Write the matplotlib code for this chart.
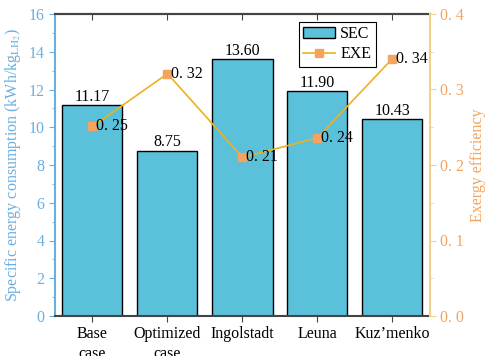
import matplotlib
matplotlib.use("Agg")
import matplotlib.pyplot as plt
from matplotlib.ticker import MultipleLocator, FuncFormatter

categories = ["Base\ncase", "Optimized\ncase", "Ingolstadt", "Leuna", "Kuz\u2019menko"]
sec = [11.17, 8.75, 13.60, 11.90, 10.43]
exe = [0.251, 0.321, 0.21, 0.236, 0.341]
exe_labels = ["0. 25", "0. 32", "0. 21", "0. 24", "0. 34"]

plt.rcParams['font.family'] = ['Liberation Serif', 'DejaVu Serif']
plt.rcParams['mathtext.fontset'] = 'stix'

fs = 11.5
bar_color = '#5BC0DA'
blue = '#6AAFE0'
line_color = '#EDB120'
marker_color = '#F4A460'
right_spine = '#F3D08A'
dark = '#444444'

fig = plt.figure(figsize=(4.89, 3.56), dpi=100)
ax = fig.add_axes([55/489, 1-316/356, 375/489, 302/356])
x = list(range(len(categories)))
ax.bar(x, sec, width=0.8, color=bar_color, edgecolor='black', linewidth=1.0, label='SEC', zorder=2)
for xi, v in zip(x, sec):
    ax.text(xi, v + 0.03, f"{v:.2f}", ha='center', va='bottom', fontsize=fs, color='black')
ax.set_xlim(-0.5, 4.5)
ax.set_ylim(0, 16)
ax.set_xticks(x)
ax.set_xticklabels(categories, fontsize=fs, linespacing=1.35)
ax.yaxis.set_major_locator(MultipleLocator(2))
ax.yaxis.set_minor_locator(MultipleLocator(1))
ax.tick_params(axis='y', which='both', colors=blue, labelsize=fs, direction='out')
ax.tick_params(axis='y', which='major', length=4)
ax.tick_params(axis='y', which='minor', length=2)
ax.tick_params(axis='x', which='both', direction='out', length=4, color=dark, labelsize=fs, pad=3)
ax.set_ylabel("Specific energy consumption (kWh/kg$_{\\mathrm{LH_2}}$)", color=blue, fontsize=fs, labelpad=4)
ax.spines['left'].set_color(blue)
ax.spines['left'].set_linewidth(1.5)
ax.spines['bottom'].set_color(dark)
ax.spines['bottom'].set_linewidth(1.5)
ax.spines['top'].set_color(dark)
ax.spines['top'].set_linewidth(1.5)
ax.spines['right'].set_visible(False)

top = ax.secondary_xaxis('top')
top.set_xticks(x)
top.set_xticklabels([])
top.tick_params(axis='x', direction='in', length=4, color=dark)
top.spines['top'].set_color(dark)
top.spines['top'].set_linewidth(1.5)

ax2 = ax.twinx()
ax2.plot(x, exe, color=line_color, linewidth=1.2, marker='s', markersize=6,
         markerfacecolor=marker_color, markeredgecolor=marker_color, label='EXE', zorder=3)
for xi, v, lab in zip(x, exe, exe_labels):
    ax2.text(xi + 0.05, v, lab, ha='left', va='center', fontsize=fs, color='black')
ax2.set_ylim(0, 0.4)
ax2.yaxis.set_major_locator(MultipleLocator(0.1))
ax2.yaxis.set_minor_locator(MultipleLocator(0.05))
ax2.yaxis.set_major_formatter(FuncFormatter(lambda v, p: f"{v:.1f}".replace('.', '. ')))
ax2.tick_params(axis='y', which='both', colors=right_spine, labelcolor=marker_color, labelsize=fs, direction='out')
ax2.tick_params(axis='y', which='major', length=4)
ax2.tick_params(axis='y', which='minor', length=2)
ax2.set_ylabel("Exergy efficiency", color=marker_color, fontsize=fs, labelpad=4)
ax2.spines['right'].set_color(right_spine)
ax2.spines['right'].set_linewidth(1.5)
for s in ['left', 'top', 'bottom']:
    ax2.spines[s].set_visible(False)

h1, l1 = ax.get_legend_handles_labels()
h2, l2 = ax2.get_legend_handles_labels()
leg = ax2.legend(h1 + h2, l1 + l2, loc='upper right', bbox_to_anchor=(0.856, 0.975), fontsize=fs,
                 frameon=True, fancybox=False, edgecolor='black', framealpha=1,
                 handlelength=2.0, handletextpad=0.3, borderpad=0.3, labelspacing=0.25, borderaxespad=0)
leg.get_frame().set_linewidth(0.8)

fig.savefig("out.png", dpi=100)
